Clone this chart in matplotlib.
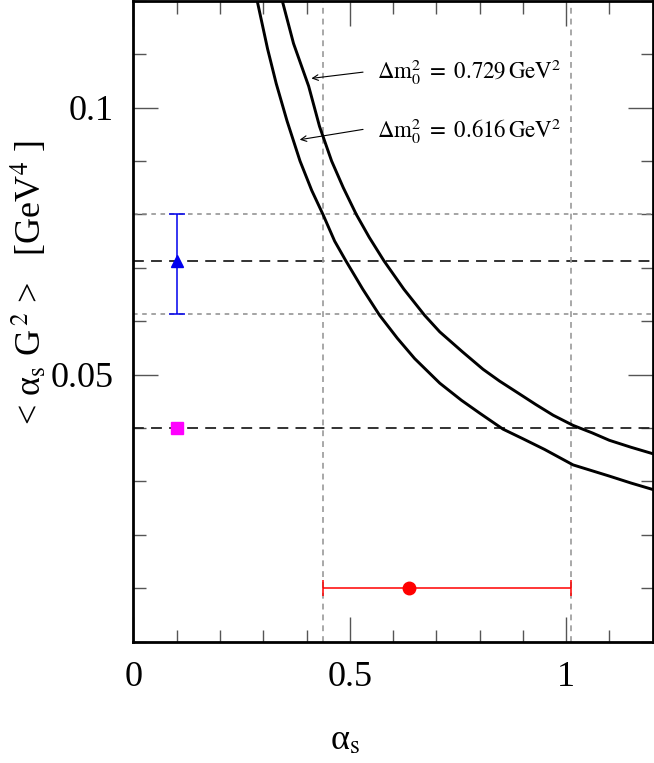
import matplotlib
matplotlib.use("Agg")
import matplotlib.pyplot as plt
from matplotlib.ticker import FixedLocator, MultipleLocator

# curves
alpha_upper = [0.344, 0.37, 0.405, 0.43, 0.458, 0.485, 0.515, 0.545, 0.579, 0.625,
               0.673, 0.708, 0.76, 0.808, 0.846, 0.89, 0.93, 0.97, 1.016, 1.06,
               1.10, 1.15, 1.2]
g2_upper = [0.120, 0.1120, 0.1040, 0.0965, 0.0900, 0.0850, 0.0800, 0.0757, 0.0713, 0.0660,
            0.0611, 0.0580, 0.0543, 0.0510, 0.0488, 0.0465, 0.0444, 0.0424, 0.0405, 0.0391,
            0.0377, 0.0364, 0.0352]
alpha_lower = [0.286, 0.31, 0.33, 0.355, 0.385, 0.412, 0.438, 0.465, 0.491, 0.53,
               0.569, 0.61, 0.65, 0.708, 0.758, 0.80, 0.854, 0.90, 0.95, 1.016,
               1.06, 1.10, 1.15, 1.2]
g2_lower = [0.120, 0.1110, 0.1045, 0.0975, 0.0900, 0.0845, 0.0800, 0.0750, 0.0713, 0.0660,
            0.0611, 0.0568, 0.0530, 0.0484, 0.0452, 0.0428, 0.0398, 0.0380, 0.0360, 0.0331,
            0.0320, 0.0310, 0.0297, 0.0285]

# condensate estimates
tri_x, tri_y, tri_lo, tri_hi = 0.1, 0.0712, 0.0613, 0.0800
sq_x, sq_y = 0.1, 0.040
circ_x, circ_y, circ_lo, circ_hi = 0.636, 0.010, 0.437, 1.012

gray_hlines = [tri_hi, tri_lo]
black_hlines = [tri_y, sq_y]
gray_vlines = [circ_lo, circ_hi]

labels = [r"$\Delta\mathrm{m}_0^2\ =\ 0.729\,\mathrm{GeV}^2$",
          r"$\Delta\mathrm{m}_0^2\ =\ 0.616\,\mathrm{GeV}^2$"]

plt.rcParams["font.family"] = ["Liberation Serif", "DejaVu Serif"]
plt.rcParams["mathtext.fontset"] = "stix"

fig = plt.figure(figsize=(6.54, 7.63), dpi=100)
ax = fig.add_axes([0.204, 0.159, 0.794, 0.840])

for y in gray_hlines:
    ax.axhline(y, color="#8c8c8c", lw=1.1, dashes=(3, 3))
for y in black_hlines:
    ax.axhline(y, color="#222222", lw=1.3, dashes=(6, 4))
for x in gray_vlines:
    ax.axvline(x, color="#9a9a9a", lw=1.2, dashes=(3.5, 3))

ax.plot(alpha_upper, g2_upper, color="black", lw=2.1)
ax.plot(alpha_lower, g2_lower, color="black", lw=2.1)

ax.errorbar([tri_x], [tri_y], yerr=[[tri_y - tri_lo], [tri_hi - tri_y]],
            fmt="^", color="#0000ee", ms=9, lw=1.1, capsize=6, capthick=1.1)
ax.plot([sq_x], [sq_y], "s", color="#ff00ff", ms=9)
ax.errorbar([circ_x], [circ_y], xerr=[[circ_x - circ_lo], [circ_hi - circ_x]],
            fmt="o", color="#ff0000", ms=9, lw=1.1, capsize=6, capthick=1.1)

# annotations with arrows
ax.annotate("", xy=(0.405, 0.1054), xytext=(0.537, 0.1067),
            arrowprops=dict(arrowstyle="->", color="black", lw=0.8))
ax.annotate("", xy=(0.378, 0.0939), xytext=(0.537, 0.0960),
            arrowprops=dict(arrowstyle="->", color="black", lw=0.8))
ax.text(0.562, 0.1066, labels[0], fontsize=16.5, va="center", ha="left")
ax.text(0.562, 0.0955, labels[1], fontsize=16.5, va="center", ha="left")

ax.set_xlim(0, 1.2)
ax.set_ylim(0, 0.12)
ax.xaxis.set_major_locator(FixedLocator([0, 0.5, 1.0]))
ax.xaxis.set_minor_locator(MultipleLocator(0.1))
ax.yaxis.set_major_locator(FixedLocator([0.05, 0.1]))
ax.yaxis.set_minor_locator(MultipleLocator(0.01))
ax.set_xticklabels(["0", "0.5", "1"])
ax.set_yticklabels(["0.05", "0.1"])
ax.tick_params(which="both", direction="in", top=True, right=True,
               color="#555555", width=1.0, labelsize=26)
ax.tick_params(which="major", length=18, pad=14)
ax.tick_params(which="minor", length=9)

for sp in ax.spines.values():
    sp.set_linewidth(2.0)

fig.text(0.528, 0.008, r"α$_{\mathrm{s}}$", fontsize=26, ha="center", va="bottom")
fig.text(0.045, 0.63, r"< α$_{\mathrm{s}}$ G$^{\,2}$ >   [GeV$^4$ ]",
         fontsize=26, rotation=90, ha="center", va="center")

fig.savefig("out.png", dpi=100)
